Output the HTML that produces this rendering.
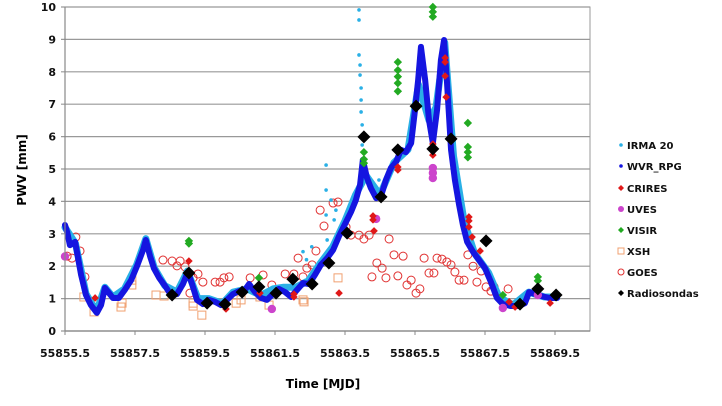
<!DOCTYPE html>
<html><head><meta charset="utf-8"><style>
html,body{margin:0;padding:0;background:#fff;}
svg{display:block;font-family:"DejaVu Sans","Liberation Sans",sans-serif;font-weight:bold;}
</style></head><body>
<svg id="chart" width="722" height="406" viewBox="0 0 722 406" xmlns="http://www.w3.org/2000/svg">
<g id="grid"></g>
<g id="marks"></g>
<g id="axes"></g>
<text x="26" y="170" font-size="12" text-anchor="middle" transform="rotate(-90 26 170)">PWV [mm]</text>
<text x="323" y="388" font-size="12" text-anchor="middle">Time [MJD]</text>
<g id="legend"></g>
</svg>
<script>
const xTicks=[55855.5,55857.5,55859.5,55861.5,55863.5,55865.5,55867.5,55869.5];
const yTicks=[0,1,2,3,4,5,6,7,8,9,10];
const wvrT=[55855.50,55855.56,55855.64,55855.79,55855.96,55856.10,55856.24,55856.41,55856.53,55856.64,55856.87,55857.04,55857.21,55857.39,55857.56,55857.73,55857.81,55857.93,55858.04,55858.19,55858.36,55858.53,55858.70,55858.87,55859.01,55859.13,55859.27,55859.44,55859.61,55859.79,55859.96,55860.13,55860.30,55860.47,55860.64,55860.76,55860.93,55861.10,55861.27,55861.44,55861.61,55861.79,55861.96,55862.13,55862.30,55862.47,55862.64,55862.81,55862.99,55863.16,55863.33,55863.50,55863.67,55863.81,55863.93,55864.01,55864.13,55864.24,55864.39,55864.53,55864.67,55864.81,55864.96,55865.10,55865.24,55865.39,55865.50,55865.59,55865.67,55865.79,55865.90,55866.01,55866.13,55866.24,55866.33,55866.41,55866.53,55866.64,55866.76,55866.87,55866.99,55867.16,55867.33,55867.50,55867.67,55867.84,55868.01,55868.24,55868.47,55868.64,55868.76,55868.93,55869.10,55869.33,55869.56];
const wvrV=[3.27,3.06,2.65,2.75,1.73,1.11,0.80,0.56,0.80,1.33,1.02,1.02,1.27,1.57,2.01,2.50,2.81,2.31,1.94,1.64,1.39,1.11,1.14,1.45,1.82,1.45,0.96,0.83,0.96,0.90,0.80,0.96,1.14,1.23,1.27,1.45,1.20,1.02,0.96,1.14,1.30,1.20,1.05,1.27,1.48,1.45,1.73,2.04,2.25,2.50,2.93,3.30,3.67,4.04,4.51,5.28,4.72,4.41,4.10,4.17,4.66,5.03,5.22,5.59,5.52,5.80,6.82,7.75,8.77,7.75,6.51,5.80,6.82,8.36,8.98,7.75,5.59,4.66,3.89,3.27,2.75,2.44,2.19,1.94,1.51,1.02,0.83,0.77,0.77,0.86,1.20,1.14,1.08,1.02,1.02];
const irmaT=[55855.5,55855.8,55856.1,55856.4,55856.64,55856.87,55857.2,55857.55,55857.81,55858.05,55858.35,55858.7,55859.0,55859.3,55859.6,55860.0,55860.3,55860.7,55861.1,55861.45,55861.75,55862.1,55862.45,55862.8,55863.15,55863.5,55863.8,55864.1,55864.5,55864.9,55865.3,55865.6,55865.9,55866.1,55866.35,55866.6,55866.9,55867.2,55867.6,55867.9,55868.3,55868.75,55869.2,55869.55];
const irmaV=[3.2,2.7,1.15,0.6,1.35,1.05,1.3,2.05,2.85,1.95,1.4,1.2,1.85,1.0,1.0,0.85,1.2,1.3,1.1,1.3,1.35,1.35,1.55,2.1,2.6,3.4,4.2,4.8,4.2,5.2,5.6,7.6,6.5,6.9,8.9,5.4,3.4,2.4,1.8,1.05,0.8,1.2,1.05,1.05];
const irmaSpikeT=[55862.96,55862.96,55862.96,55862.99,55863.10,55863.19,55863.24,55863.90,55863.90,55863.90,55863.93,55863.93,55863.96,55863.96,55863.96,55863.99,55863.99,55863.99,55864.47,55862.30,55862.40,55862.55];
const irmaSpikeV=[5.12,4.35,3.58,2.81,4.04,3.43,3.73,9.91,9.60,8.52,8.21,7.90,7.50,7.13,6.76,6.36,6.05,5.74,4.66,2.45,2.2,2.6];
const crT=[55856.36,55859.04,55860.10,55861.07,55862.04,55862.04,55863.33,55864.30,55864.30,55864.33,55865.01,55865.01,55866.01,55866.01,55866.01,55866.36,55866.36,55866.36,55866.39,55867.04,55867.04,55867.04,55867.13,55867.36,55868.19,55868.36,55869.36];
const crV=[1.02,2.16,0.68,1.17,1.14,1.05,1.17,3.55,3.43,3.09,5.06,4.97,5.77,5.65,5.43,8.43,8.30,7.87,7.22,3.52,3.40,3.21,2.90,2.47,0.90,0.74,0.86];
const uvT=[55861.41,55864.39,55866.01,55866.01,55866.01,55868.01,55869.01,55855.5];
const uvV=[0.68,3.46,5.03,4.88,4.72,0.71,1.11,2.3];
const viT=[55859.04,55859.04,55861.04,55864.04,55864.04,55864.04,55865.01,55865.01,55865.01,55865.01,55865.01,55866.01,55866.01,55866.01,55867.01,55867.01,55867.01,55867.01,55868.01,55869.01,55869.01];
const viV=[2.78,2.70,1.64,5.52,5.30,5.18,8.30,8.05,7.85,7.65,7.40,10.0,9.85,9.70,6.42,5.68,5.52,5.36,1.11,1.67,1.55];
const xsT=[55856.04,55856.33,55857.13,55857.10,55857.41,55857.41,55858.10,55858.33,55859.16,55859.16,55859.41,55860.39,55860.53,55861.07,55861.33,55862.30,55862.33,55863.30,55864.04];
const xsV=[1.05,0.59,0.86,0.74,1.57,1.42,1.11,1.08,0.86,0.77,0.49,0.86,0.96,1.05,0.80,0.96,0.90,1.64,4.88];
const goT=[55855.56,55855.70,55855.81,55855.93,55856.07,55858.30,55858.56,55858.70,55858.79,55858.93,55859.07,55859.16,55859.30,55859.44,55859.79,55859.93,55860.04,55860.19,55860.79,55861.16,55861.41,55861.79,55862.04,55862.16,55862.30,55862.41,55862.56,55862.67,55862.79,55862.90,55863.16,55863.30,55863.53,55863.67,55863.90,55864.04,55864.19,55864.27,55864.41,55864.56,55864.67,55864.76,55864.90,55865.01,55865.16,55865.27,55865.39,55865.53,55865.64,55865.76,55865.90,55866.04,55866.13,55866.27,55866.41,55866.53,55866.64,55866.76,55866.90,55867.01,55867.16,55867.27,55867.39,55867.53,55867.67,55867.76,55868.16];
const goV=[2.31,2.25,2.90,2.47,1.67,2.19,2.16,2.01,2.16,1.98,1.17,1.64,1.76,1.51,1.51,1.51,1.64,1.67,1.64,1.73,1.42,1.76,1.76,2.25,1.67,1.94,2.04,2.47,3.73,3.24,3.95,3.98,3.21,2.96,2.96,2.84,2.96,1.67,2.10,1.94,1.64,2.84,2.35,1.70,2.31,1.42,1.57,1.17,1.30,2.25,1.79,1.79,2.25,2.22,2.13,2.04,1.82,1.57,1.57,2.35,2.00,1.51,1.85,1.36,1.23,1.36,1.30];
const rsT=[55858.56,55859.04,55859.56,55860.07,55860.56,55861.04,55861.53,55862.01,55862.56,55863.04,55863.56,55864.04,55864.53,55865.01,55865.53,55866.01,55866.53,55867.53,55868.50,55869.01,55869.53];
const rsV=[1.11,1.79,0.86,0.83,1.20,1.36,1.17,1.60,1.45,2.10,3.02,5.99,4.14,5.59,6.94,5.62,5.93,2.78,0.83,1.30,1.11];

const NS='http://www.w3.org/2000/svg';
const L=65,R=590,T=7,B=331,X0=55855.5,X1=55870.5;
const xs=m=>L+(m-X0)/(X1-X0)*(R-L);
const ys=v=>B-v/10*(B-T);
function mk(tag,at,parent){const e=document.createElementNS(NS,tag);for(const k in at)e.setAttribute(k,at[k]);parent.appendChild(e);return e;}
const grid=document.getElementById('grid'),axes=document.getElementById('axes'),marks=document.getElementById('marks'),leg=document.getElementById('legend');
mk('rect',{x:L,y:T,width:R-L,height:B-T,fill:'#fff',stroke:'#999','stroke-width':1},grid);
yTicks.forEach(v=>{
  const y=ys(v);
  const g=mk('line',{x1:L-4,x2:R,y1:y,y2:y,stroke:'#999','stroke-width':1.2},grid);
  
  
  const t=mk('text',{x:56,y:y+4,'font-size':11,'text-anchor':'end',fill:'#111'},axes);
  t.textContent=v;
  
  
});
mk('line',{x1:L,x2:L,y1:T,y2:B,stroke:'#888','stroke-width':1.2},axes);
mk('line',{x1:L,x2:R,y1:B,y2:B,stroke:'#888','stroke-width':1.2},axes);
xTicks.forEach(m=>{
  const x=xs(m);
  mk('line',{x1:x,x2:x,y1:B,y2:B+4,stroke:'#888'},axes);
  const t=mk('text',{x:x,y:357,'font-size':11,'text-anchor':'middle',fill:'#111'},axes);
  t.textContent=m.toFixed(1);
  
  
});
function line(T_,V_,color,w,name){
  const p=mk('polyline',{points:T_.map((t,i)=>xs(t)+','+ys(V_[i])).join(' '),fill:'none',stroke:color,'stroke-width':w,'stroke-linejoin':'round','stroke-linecap':'round'},marks);
  
  
}
function pts(T_,V_,kind,name){
  T_.forEach((t,i)=>{
    const x=xs(t),y=ys(V_[i]);let e;
    if(kind==='dot-l')e=mk('circle',{cx:x,cy:y,r:1.8,fill:'#2ab0e6'},marks);
    else if(kind==='dot-b')e=mk('circle',{cx:x,cy:y,r:2.6,fill:'#1515e0'},marks);
    else if(kind==='cr')e=mk('path',{d:`M${x},${y-3.8}L${x+3.8},${y}L${x},${y+3.8}L${x-3.8},${y}Z`,fill:'#e01818'},marks);
    else if(kind==='uv')e=mk('circle',{cx:x,cy:y,r:4.2,fill:'#cc44cc'},marks);
    else if(kind==='vi')e=mk('path',{d:`M${x},${y-4.2}L${x+4.2},${y}L${x},${y+4.2}L${x-4.2},${y}Z`,fill:'#22aa22'},marks);
    else if(kind==='xs')e=mk('rect',{x:x-4,y:y-4,width:8,height:8,fill:'none',stroke:'#f0a070','stroke-width':1},marks);
    else if(kind==='go')e=mk('circle',{cx:x,cy:y,r:4,fill:'none',stroke:'#e03030','stroke-width':1},marks);
    else if(kind==='rs')e=mk('path',{d:`M${x},${y-6.5}L${x+6.5},${y}L${x},${y+6.5}L${x-6.5},${y}Z`,fill:'#000'},marks);
    
    
  });
}
pts(goT,goV,'go','goes-point');
pts(xsT,xsV,'xs','xsh-point');
line(irmaT,irmaV,'#2ab0e6',7,'irma20-series');
pts(irmaSpikeT,irmaSpikeV,'dot-l','irma20-point');
line(wvrT,wvrV,'#1515e0',6,'wvr-rpg-series');
pts(wvrT,wvrV,'dot-b','wvr-rpg-point');
pts(uvT,uvV,'uv','uves-point');
pts(crT,crV,'cr','crires-point');
pts(viT,viV,'vi','visir-point');
pts(rsT,rsV,'rs','radiosonda-point');
const legNames=['IRMA 20','WVR_RPG','CRIRES','UVES','VISIR','XSH','GOES','Radiosondas'];
const legY=[145,166,188,209,230,251,272,293];
legNames.forEach((n,i)=>{
  const y=legY[i],x=621;let e;
  if(i===0)e=mk('circle',{cx:x,cy:y,r:1.8,fill:'#2ab0e6'},leg);
  else if(i===1)e=mk('circle',{cx:x,cy:y,r:1.8,fill:'#1515e0'},leg);
  else if(i===2)e=mk('path',{d:`M${x},${y-3}L${x+3},${y}L${x},${y+3}L${x-3},${y}Z`,fill:'#e01818'},leg);
  else if(i===3)e=mk('circle',{cx:x,cy:y,r:3,fill:'#cc44cc'},leg);
  else if(i===4)e=mk('path',{d:`M${x},${y-3}L${x+3},${y}L${x},${y+3}L${x-3},${y}Z`,fill:'#22aa22'},leg);
  else if(i===5)e=mk('rect',{x:x-3,y:y-3,width:6,height:6,fill:'none',stroke:'#f0a070'},leg);
  else if(i===6)e=mk('circle',{cx:x,cy:y,r:3,fill:'none',stroke:'#e03030'},leg);
  else e=mk('path',{d:`M${x},${y-3}L${x+3},${y}L${x},${y+3}L${x-3},${y}Z`,fill:'#000'},leg);
  
  
  const t=mk('text',{x:627,y:y+4,'font-size':10,fill:'#111'},leg);
  t.textContent=n;
  
  
});
</script>
</body></html>
